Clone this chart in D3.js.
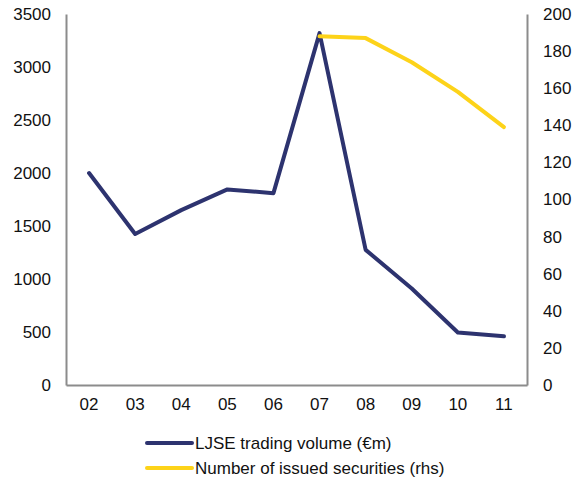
<!DOCTYPE html>
<html lang="en">
<head>
<meta charset="UTF-8">
<title>LJSE trading volume</title>
<script src="https://d3js.org/d3.v7.min.js"></script>
<style>
    body { margin: 0; padding: 0; background: #fff; }
    svg text { font-family: "Liberation Sans", Arial, sans-serif; font-size: 17px; fill: #111; }
</style>
</head>
<body>
<div id="chart"></div>
<script>
    // data
    const years = ["02", "03", "04", "05", "06", "07", "08", "09", "10", "11"];
    const volume = [2000, 1425, 1650, 1845, 1810, 3320, 1275, 910, 495, 460];
    const securitiesYears = ["07", "08", "09", "10", "11"];
    const securities = [188, 187, 174, 158, 139];
    const leftTicks = [0, 500, 1000, 1500, 2000, 2500, 3000, 3500];
    const rightTicks = [0, 20, 40, 60, 80, 100, 120, 140, 160, 180, 200];

    const width = 574, height = 479;
    const m = { top: 14, right: 47, bottom: 94, left: 66 };

    const svg = d3.select("#chart").append("svg")
        .attr("width", width)
        .attr("height", height);

    const x = d3.scaleBand().domain(years).range([m.left, width - m.right]);
    const yL = d3.scaleLinear().domain([0, 3500]).range([height - m.bottom, m.top]);
    const yR = d3.scaleLinear().domain([0, 200]).range([height - m.bottom, m.top]);
    const cx = d => x(d) + x.bandwidth() / 2;

    const axisColor = "#8c8c8c";

    // left axis
    const gl = svg.append("g")
        .attr("transform", `translate(${m.left},0)`)
        .call(d3.axisLeft(yL).tickValues(leftTicks).tickFormat(d3.format("d"))
            .tickSize(0).tickPadding(15));
    // right axis
    const gr = svg.append("g")
        .attr("transform", `translate(${width - m.right},0)`)
        .call(d3.axisRight(yR).tickValues(rightTicks).tickFormat(d3.format("d"))
            .tickSize(0).tickPadding(16));
    // bottom axis
    const gb = svg.append("g")
        .attr("transform", `translate(0,${height - m.bottom})`)
        .call(d3.axisBottom(x).tickSize(0).tickPadding(13));

    [gl, gr, gb].forEach(g => {
        g.select(".domain").attr("stroke", axisColor).attr("stroke-width", 2);
        g.selectAll("text").attr("font-size", null).attr("font-family", null);
    });

    // lines
    const blue = "#2d336f", yellow = "#fdd319";

    svg.append("path")
        .datum(years.map((d, i) => [d, volume[i]]))
        .attr("fill", "none")
        .attr("stroke", blue)
        .attr("stroke-width", 4)
        .attr("stroke-linejoin", "round")
        .attr("stroke-linecap", "round")
        .attr("d", d3.line().x(d => cx(d[0])).y(d => yL(d[1])));

    svg.append("path")
        .datum(securitiesYears.map((d, i) => [d, securities[i]]))
        .attr("fill", "none")
        .attr("stroke", yellow)
        .attr("stroke-width", 4)
        .attr("stroke-linejoin", "round")
        .attr("stroke-linecap", "round")
        .attr("d", d3.line().x(d => cx(d[0])).y(d => yR(d[1])));

    // legend
    const legend = [
        { label: "LJSE trading volume (\u20acm)", color: blue },
        { label: "Number of issued securities (rhs)", color: yellow }
    ];
    const lg = svg.selectAll(".lg").data(legend).enter().append("g")
        .attr("transform", (d, i) => `translate(147,${443 + i * 25})`);
    lg.append("line")
        .attr("x1", 0).attr("x2", 45)
        .attr("stroke", d => d.color)
        .attr("stroke-width", 4)
        .attr("stroke-linecap", "round");
    lg.append("text")
        .attr("x", 48)
        .attr("dy", "0.35em")
        .text(d => d.label);
</script>
</body>
</html>
